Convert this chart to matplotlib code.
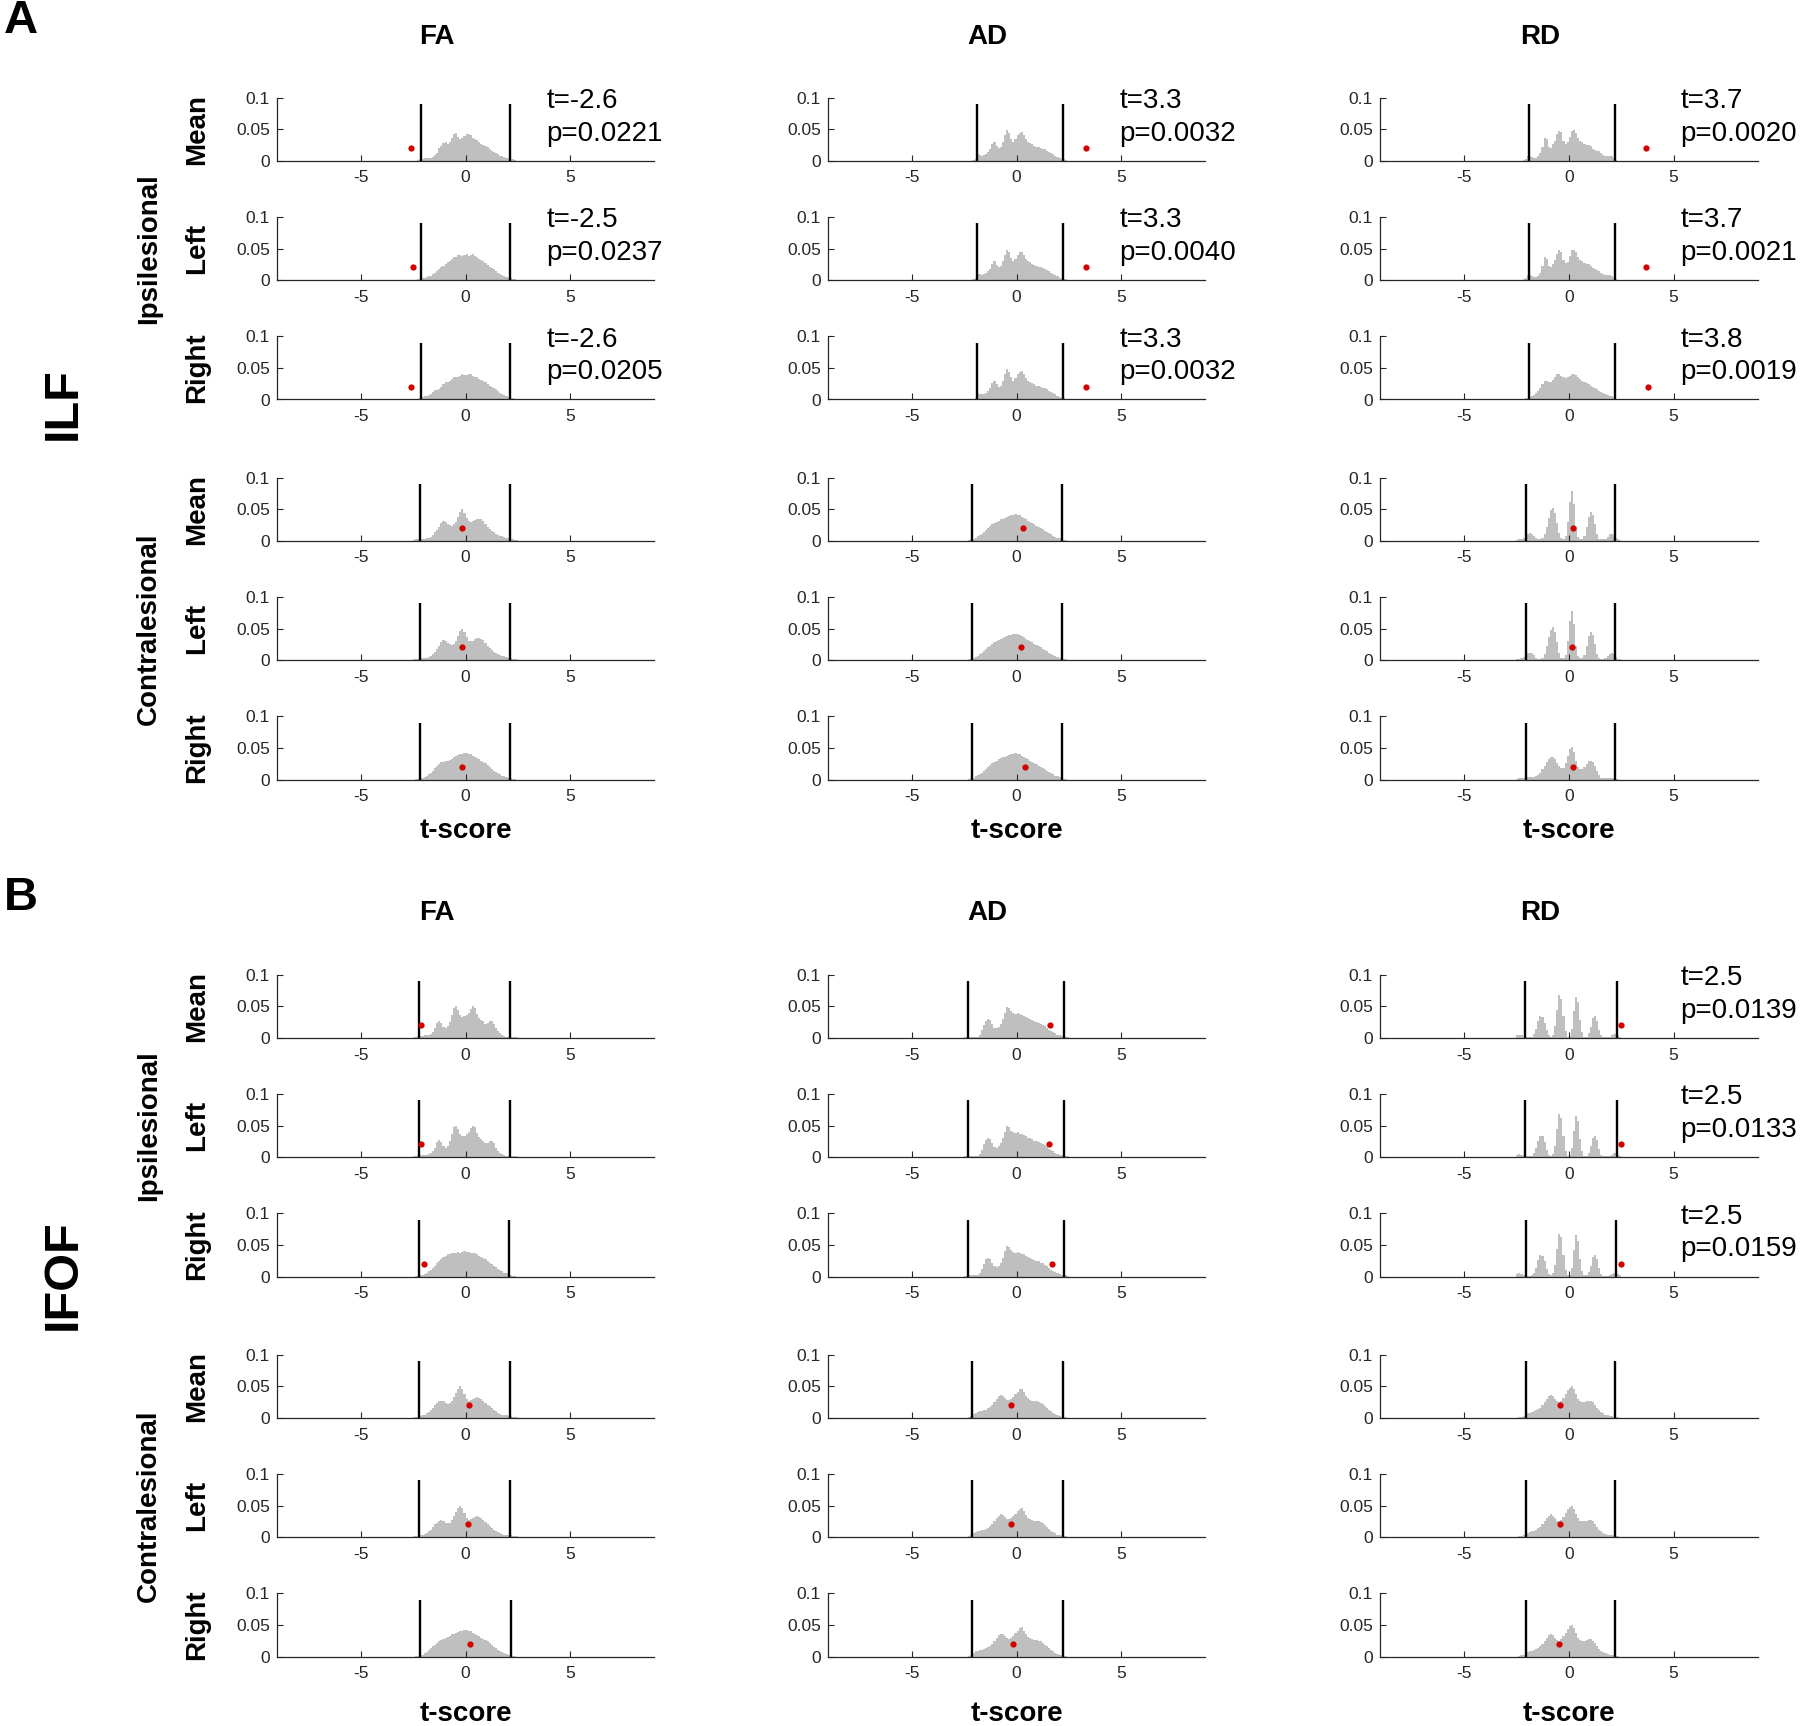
import numpy as np
import matplotlib.pyplot as plt

plt.rcParams['font.family'] = ['Liberation Sans', 'DejaVu Sans']

# null distributions of t (probability x1000) in 0.1-wide bins from -2.5 to 2.5
bin_edges = np.linspace(-2.5, 2.5, 51)

ilf_fa_ipsi_mean = [0, 0, 1, 2, 3, 4, 5, 5, 5, 6,
                    9, 12, 20, 24, 28, 30, 27, 30, 36, 42,
                    44, 38, 34, 36, 39, 42, 43, 40, 36, 35,
                    33, 30, 27, 25, 23, 21, 19, 16, 14, 12,
                    10, 8, 7, 6, 5, 4, 3, 2, 1, 0]
ilf_fa_ipsi_left = [0, 0, 1, 2, 3, 4, 5, 6, 7, 9,
                    11, 14, 17, 20, 23, 26, 29, 31, 34, 36,
                    37, 39, 40, 38, 39, 41, 38, 40, 41, 38,
                    36, 34, 32, 30, 27, 24, 21, 19, 17, 15,
                    12, 10, 8, 6, 5, 4, 3, 2, 1, 0]
ilf_fa_ipsi_right = [0, 0, 1, 2, 4, 5, 6, 7, 9, 12,
                     15, 15, 17, 20, 24, 27, 28, 30, 33, 35,
                     35, 36, 38, 40, 39, 39, 40, 41, 38, 36,
                     35, 33, 31, 29, 27, 25, 22, 20, 18, 16,
                     13, 11, 9, 7, 5, 4, 3, 2, 1, 0]
ilf_fa_contra = [1, 2, 2, 3, 3, 3, 4, 5, 6, 9,
                 13, 17, 22, 28, 32, 30, 27, 25, 24, 26,
                 30, 38, 46, 50, 44, 36, 31, 30, 31, 33,
                 35, 35, 34, 32, 27, 22, 19, 16, 13, 11,
                 9, 8, 7, 6, 5, 4, 3, 2, 1, 1]
ilf_fa_contra_right = [0, 1, 1, 2, 3, 4, 6, 8, 11, 14,
                       18, 22, 25, 27, 28, 29, 30, 31, 33, 35,
                       37, 39, 40, 41, 42, 42, 41, 40, 38, 36,
                       34, 32, 30, 28, 26, 23, 20, 17, 14, 12,
                       10, 8, 6, 5, 4, 3, 2, 1, 1, 0]
ilf_ad_ipsi = [0, 0, 0, 0, 1, 3, 10, 9, 8, 9,
               11, 14, 18, 26, 30, 24, 20, 22, 30, 40,
               48, 44, 35, 30, 34, 40, 44, 45, 40, 34,
               30, 28, 26, 24, 22, 21, 20, 19, 18, 16,
               14, 12, 10, 8, 6, 4, 3, 2, 1, 0]
ilf_ad_contra = [0, 0, 1, 2, 3, 5, 7, 9, 11, 14,
                 17, 20, 23, 26, 28, 30, 32, 34, 35, 36,
                 38, 39, 40, 41, 42, 41, 40, 38, 36, 34,
                 32, 30, 28, 26, 24, 22, 20, 18, 16, 14,
                 12, 10, 8, 6, 5, 4, 3, 1, 1, 0]
ilf_rd_ipsi = [0, 0, 0, 1, 3, 8, 8, 6, 5, 5,
               7, 12, 22, 36, 34, 22, 20, 26, 32, 42,
               47, 45, 32, 27, 29, 38, 47, 48, 44, 36,
               32, 30, 27, 25, 25, 23, 19, 17, 16, 15,
               12, 9, 8, 8, 8, 7, 4, 1, 0, 0]
ilf_rd_ipsi_right = [0, 0, 0, 1, 2, 3, 4, 5, 7, 10,
                     14, 19, 24, 29, 30, 28, 28, 31, 35, 40,
                     40, 38, 35, 34, 35, 37, 40, 41, 39, 35,
                     32, 30, 28, 26, 24, 22, 20, 18, 16, 14,
                     12, 10, 8, 7, 6, 5, 3, 1, 0, 0]
ilf_rd_contra = [1, 2, 3, 5, 8, 11, 12, 11, 8, 4,
                 2, 2, 4, 10, 22, 36, 48, 52, 44, 28,
                 12, 4, 3, 8, 30, 62, 78, 58, 22, 6,
                 3, 3, 8, 22, 38, 45, 40, 26, 10, 3,
                 2, 2, 3, 6, 10, 11, 9, 5, 2, 1]
ilf_rd_contra_right = [1, 2, 3, 3, 3, 4, 4, 4, 4, 5,
                       7, 11, 16, 22, 28, 33, 36, 36, 32, 26,
                       21, 18, 19, 26, 38, 48, 52, 44, 30, 20,
                       16, 17, 20, 25, 29, 30, 28, 22, 14, 7,
                       3, 2, 2, 2, 2, 2, 2, 1, 1, 0]

ifof_fa_ipsi = [2, 2, 3, 3, 3, 4, 4, 5, 6, 9,
                15, 24, 27, 24, 17, 15, 18, 25, 36, 47,
                50, 44, 36, 33, 34, 36, 40, 46, 50, 47,
                38, 32, 29, 26, 22, 23, 26, 26, 22, 15,
                10, 7, 5, 3, 2, 2, 2, 1, 1, 1]
ifof_fa_ipsi_right = [0, 1, 1, 2, 3, 4, 6, 8, 11, 14,
                      17, 21, 25, 28, 31, 33, 35, 36, 37, 37,
                      38, 39, 38, 39, 40, 39, 39, 38, 38, 37,
                      35, 33, 31, 29, 27, 25, 22, 20, 17, 15,
                      12, 10, 8, 6, 5, 3, 2, 1, 1, 0]
ifof_fa_contra = [1, 2, 2, 3, 4, 5, 7, 9, 12, 16,
                  20, 23, 26, 27, 26, 23, 22, 23, 27, 33,
                  40, 46, 50, 46, 38, 30, 27, 28, 30, 32,
                  33, 32, 30, 27, 24, 21, 18, 15, 12, 10,
                  8, 6, 5, 4, 4, 3, 3, 2, 1, 1]
ifof_fa_contra_right = [0, 1, 1, 2, 3, 5, 7, 10, 13, 16,
                        19, 22, 24, 26, 28, 29, 31, 33, 35, 36,
                        37, 39, 40, 41, 42, 42, 41, 40, 38, 36,
                        34, 32, 30, 28, 26, 24, 21, 18, 15, 13,
                        11, 9, 7, 5, 4, 3, 2, 1, 1, 0]
ifof_ad_ipsi = [1, 1, 2, 2, 2, 2, 2, 5, 12, 20,
                27, 30, 28, 22, 16, 15, 17, 22, 30, 40,
                49, 47, 42, 39, 38, 39, 37, 36, 35, 33,
                31, 30, 28, 26, 25, 24, 22, 21, 19, 16,
                13, 11, 9, 7, 5, 4, 3, 2, 2, 1]
ifof_ad_contra = [0, 0, 1, 3, 6, 8, 9, 10, 11, 12,
                  13, 15, 17, 20, 25, 30, 34, 36, 35, 32,
                  29, 28, 30, 33, 37, 41, 45, 46, 41, 35,
                  31, 29, 27, 26, 26, 25, 24, 22, 19, 16,
                  13, 10, 8, 6, 4, 3, 2, 1, 1, 0]
ifof_rd_ipsi = [4, 5, 4, 2, 1, 1, 1, 2, 6, 14,
                26, 34, 33, 24, 12, 4, 2, 5, 18, 44,
                68, 62, 34, 10, 2, 3, 14, 42, 65, 57,
                28, 9, 2, 2, 7, 17, 31, 34, 27, 13,
                4, 1, 1, 1, 2, 4, 6, 6, 4, 2]
ifof_rd_contra = [0, 1, 2, 3, 5, 7, 8, 9, 10, 12,
                  14, 16, 20, 25, 30, 34, 36, 34, 30, 26,
                  25, 27, 32, 38, 44, 48, 50, 45, 37, 30,
                  26, 25, 25, 26, 27, 27, 25, 21, 16, 12,
                  9, 7, 5, 4, 3, 3, 2, 1, 1, 0]

tracts = ['ILF', 'IFOF']
metrics = ['FA', 'AD', 'RD']
row_names = ['Mean', 'Left', 'Right', 'Mean', 'Left', 'Right']
sides = ['Ipsilesional', 'Contralesional']

# histogram used in each panel, rows: ipsi mean/left/right, contra mean/left/right
hists = {
    ('ILF', 'FA'): [ilf_fa_ipsi_mean, ilf_fa_ipsi_left, ilf_fa_ipsi_right,
                    ilf_fa_contra, ilf_fa_contra, ilf_fa_contra_right],
    ('ILF', 'AD'): [ilf_ad_ipsi, ilf_ad_ipsi, ilf_ad_ipsi,
                    ilf_ad_contra, ilf_ad_contra, ilf_ad_contra],
    ('ILF', 'RD'): [ilf_rd_ipsi, ilf_rd_ipsi, ilf_rd_ipsi_right,
                    ilf_rd_contra, ilf_rd_contra, ilf_rd_contra_right],
    ('IFOF', 'FA'): [ifof_fa_ipsi, ifof_fa_ipsi, ifof_fa_ipsi_right,
                     ifof_fa_contra, ifof_fa_contra, ifof_fa_contra_right],
    ('IFOF', 'AD'): [ifof_ad_ipsi] * 3 + [ifof_ad_contra] * 3,
    ('IFOF', 'RD'): [ifof_rd_ipsi] * 3 + [ifof_rd_contra] * 3,
}

# observed t-scores (red dots)
t_obs = {
    ('ILF', 'FA'): [-2.6, -2.5, -2.6, -0.15, -0.15, -0.15],
    ('ILF', 'AD'): [3.3, 3.3, 3.3, 0.3, 0.2, 0.4],
    ('ILF', 'RD'): [3.7, 3.7, 3.8, 0.2, 0.15, 0.2],
    ('IFOF', 'FA'): [-2.1, -2.1, -2.0, 0.15, 0.1, 0.2],
    ('IFOF', 'AD'): [1.6, 1.55, 1.7, -0.25, -0.25, -0.15],
    ('IFOF', 'RD'): [2.5, 2.5, 2.5, -0.4, -0.4, -0.45],
}

# significant results only
p_vals = {
    ('ILF', 'FA'): [0.0221, 0.0237, 0.0205],
    ('ILF', 'AD'): [0.0032, 0.0040, 0.0032],
    ('ILF', 'RD'): [0.0020, 0.0021, 0.0019],
    ('IFOF', 'RD'): [0.0139, 0.0133, 0.0159],
}

# critical t values (2.5% / 97.5% of the null)
crit_lo = {
    ('ILF', 'FA'): [-2.1, -2.1, -2.1, -2.15, -2.15, -2.15],
    ('ILF', 'AD'): [-1.9, -1.9, -1.9, -2.1, -2.1, -2.1],
    ('ILF', 'RD'): [-1.9, -1.9, -1.9, -2.05, -2.05, -2.05],
    ('IFOF', 'FA'): [-2.2, -2.2, -2.2, -2.2, -2.2, -2.15],
    ('IFOF', 'AD'): [-2.3, -2.3, -2.3, -2.1, -2.1, -2.1],
    ('IFOF', 'RD'): [-2.1, -2.1, -2.05, -2.05, -2.05, -2.05],
}
crit_hi = {
    ('ILF', 'FA'): [2.1, 2.1, 2.1, 2.1, 2.1, 2.1],
    ('ILF', 'AD'): [2.2, 2.2, 2.2, 2.15, 2.15, 2.15],
    ('ILF', 'RD'): [2.2, 2.2, 2.2, 2.2, 2.2, 2.2],
    ('IFOF', 'FA'): [2.1, 2.1, 2.05, 2.1, 2.1, 2.15],
    ('IFOF', 'AD'): [2.25, 2.25, 2.25, 2.2, 2.2, 2.2],
    ('IFOF', 'RD'): [2.3, 2.3, 2.25, 2.2, 2.2, 2.2],
}

W, H = 1800, 1726
fig = plt.figure(figsize=(W / 100, H / 100), dpi=100)

col_left = [276.7, 827.7, 1379.9]
ax_w, ax_h = 377.7, 63.1
row_tops = {
    'ILF': [97.6, 217.0, 336.4, 477.6, 597.0, 716.4],
    'IFOF': [974.7, 1094.0, 1213.4, 1354.7, 1474.0, 1593.4],
}
xlabel_pad = {'ILF': 10, 'IFOF': 14}
txt_x = [0.714, 0.772, 0.796]
ink = '#262626'

for tract in tracts:
    tops = row_tops[tract]
    for c, metric in enumerate(metrics):
        key = (tract, metric)
        for r in range(6):
            ax = fig.add_axes([col_left[c] / W, 1 - (tops[r] + ax_h) / H,
                               ax_w / W, ax_h / H])
            ax.stairs(np.array(hists[key][r]) / 1000, bin_edges, fill=True,
                      color='#bfbfbf', lw=0)
            ax.vlines([crit_lo[key][r], crit_hi[key][r]], 0, 0.09,
                      color='black', lw=1.7)
            ax.plot(t_obs[key][r], 0.02, 'o', color='#d40000', ms=4.5, mec='none')
            ax.set_xlim(-9, 9)
            ax.set_ylim(0, 0.1)
            ax.set_xticks([-5, 0, 5])
            ax.set_xticklabels(['-5', '0', '5'])
            ax.set_yticks([0, 0.05, 0.1])
            ax.set_yticklabels(['0', '0.05', '0.1'])
            ax.tick_params(direction='in', length=4, width=0.8, labelsize=12.5,
                           color=ink, labelcolor=ink)
            ax.tick_params(axis='x', pad=7)
            ax.tick_params(axis='y', pad=5)
            for s in ['top', 'right']:
                ax.spines[s].set_visible(False)
            for s in ['left', 'bottom']:
                ax.spines[s].set_color(ink)
                ax.spines[s].set_linewidth(0.9)
            ax.patch.set_alpha(0)
            if key in p_vals and r < 3:
                ax.text(txt_x[c], 0.69,
                        't=%.1f\np=%.4f' % (t_obs[key][r], p_vals[key][r]),
                        transform=ax.transAxes, fontsize=20, va='center',
                        ha='left', linespacing=1.34)
            if r == 5:
                ax.set_xlabel('t-score', fontsize=20, fontweight='bold',
                              labelpad=xlabel_pad[tract])
            if c == 0:
                yc = 1 - (tops[r] + ax_h / 2) / H
                fig.text(197.5 / W, yc, row_names[r], rotation=90, ha='center',
                         va='center', fontsize=20, fontweight='bold')
        # column titles, slightly left of the axes centre
        fig.text((col_left[c] + ax_w / 2 - 29) / W,
                 1 - (36.7 if tract == 'ILF' else 912.7) / H,
                 metric, ha='center', va='center', fontsize=20, fontweight='bold')
    for k, side in enumerate(sides):
        yc = 1 - (tops[1 + 3 * k] + ax_h / 2) / H
        fig.text(149 / W, yc, side, rotation=90, ha='center', va='center',
                 fontsize=20, fontweight='bold')

fig.text(63 / W, 1 - 404 / H, 'ILF', rotation=90, ha='center', va='center',
         fontsize=35, fontweight='bold')
fig.text(63 / W, 1 - 1275 / H, 'IFOF', rotation=90, ha='center', va='center',
         fontsize=35, fontweight='bold')
fig.text(20.7 / W, 1 - 20.7 / H, 'A', ha='center', va='center', fontsize=34,
         fontweight='bold')
fig.text(20.7 / W, 1 - 897.7 / H, 'B', ha='center', va='center', fontsize=34,
         fontweight='bold')

fig.savefig('out.png', dpi=100, facecolor='white')
